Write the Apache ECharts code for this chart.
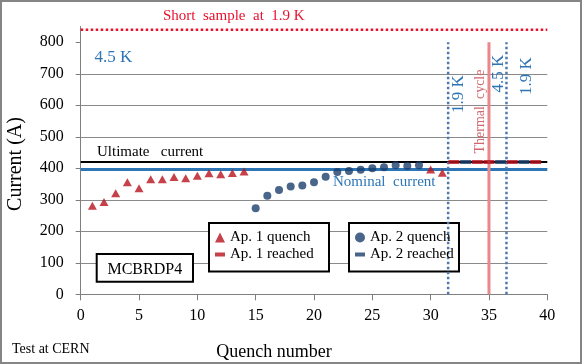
<!DOCTYPE html>
<html>
<head>
<meta charset="utf-8">
<script src="https://cdn.jsdelivr.net/npm/echarts@6/dist/echarts.min.js"></script>
<style>
html,body{margin:0;padding:0;background:#fff;}
#wrap{position:relative;width:582px;height:364px;}
#chart{width:582px;height:364px;}
#frame{position:absolute;left:0;top:0;width:582px;height:364px;box-sizing:border-box;border:2px solid #858585;pointer-events:none;}
</style>
</head>
<body>
<div id="wrap"><div id="chart"></div><div id="frame"></div></div>
<script>
// ---- data ----
const ap1QuenchNo = [1,2,3,4,5,6,7,8,9,10,11,12,13,14,30,31];
const ap1Quench   = [281,293,321,356,337,365,365,372,368,376,384,381,385,390,396,386];
const ap2QuenchNo = [15,16,17,18,19,20,21,22,23,24,25,26,27,28,29];
const ap2Quench   = [273,313,331,342,345,356,373,388,391,395,400,403,410,407,410];
const ap1ReachedNo = [32,34,35,37,39];
const ap1Reached   = [420,420,420,420,420];
const ap2ReachedNo = [33,36,38];
const ap2Reached   = [420,420,420];
const ultimateCurrent = 420;
const nominalCurrent = 396;
const shortSample19K = 840;
const tempChangeNo = [31.5, 36.5];
const thermalCycleNo = 35;
const xTicks = [0,5,10,15,20,25,30,35,40];
const yTicks = [0,100,200,300,400,500,600,700,800];
const xRange = [0, 40];
const yRange = [0, 850];

const FONT = 'Liberation Serif';
const RED = '#B8121C';
const NAVY = '#1B3F6D';
const BLUE = '#2E75B6';

const chart = echarts.init(document.getElementById('chart'), null, {renderer:'canvas'});

function pairs(xs, ys){ return xs.map((x,i)=>[x, ys[i]]); }
function hLine(name, y, color, width, type){
  return {name, type:'line', data:[[xRange[0], y],[xRange[1], y]], symbol:'none', silent:true,
    lineStyle:{color, width, type}, z:2};
}
function vLine(name, x, color, width, type){
  return {name, type:'line', data:[[x, yTicks[0]],[x, yTicks[yTicks.length-1]]], symbol:'none', silent:true,
    lineStyle:{color, width, type}, z:3};
}

const splitColors = yTicks.map(()=> '#8a8a8a').concat(['rgba(0,0,0,0)']);

const option = {
  animation:false,
  backgroundColor:'#fff',
  grid:{left:80.7, right:34.7, top:26.5, bottom:69.7},
  xAxis:{type:'value', min:xRange[0], max:xRange[1], interval:5,
    axisLine:{show:true, onZero:false, lineStyle:{color:'#7f7f7f', width:1}},
    axisTick:{show:true, length:6, inside:false, lineStyle:{color:'#7f7f7f'}},
    splitLine:{show:false},
    axisLabel:{fontFamily:FONT, fontSize:16, color:'#000', margin:13,
      formatter:v=> xTicks.includes(v)? String(v):''}
  },
  yAxis:{type:'value', min:yRange[0], max:yRange[1], interval:100,
    axisLine:{show:true, lineStyle:{color:'#7f7f7f', width:1}},
    axisTick:{show:true, length:5, lineStyle:{color:'#7f7f7f'}, customValues:yTicks},
    splitLine:{show:true, showMaxLine:false, lineStyle:{color:splitColors, width:1}},
    axisLabel:{fontFamily:FONT, fontSize:16, color:'#000', margin:17,
      formatter:v=> yTicks.includes(v)? String(v):''}
  },
  legend:[
    {left:215, top:230, orient:'vertical', itemWidth:10, itemHeight:10, itemGap:2, padding:0,
     symbolKeepAspect:true,
     textStyle:{fontFamily:FONT, fontSize:15, color:'#000'},
     data:[{name:'Ap. 1 quench', icon:'triangle'},{name:'Ap. 1 reached', icon:'path://M0,0H10V4H0Z'}]},
    {left:355, top:230, orient:'vertical', itemWidth:10, itemHeight:10, itemGap:2, padding:0,
     symbolKeepAspect:true,
     textStyle:{fontFamily:FONT, fontSize:15, color:'#000'},
     data:[{name:'Ap. 2 quench', icon:'circle'},{name:'Ap. 2 reached', icon:'path://M0,0H10V4H0Z'}]}
  ],
  series:[
    hLine('Short sample', shortSample19K, '#E8112D', 2.5, 'dotted'),
    hLine('Ultimate current', ultimateCurrent, '#000', 2, 'solid'),
    hLine('Nominal current', nominalCurrent, BLUE, 3, 'solid'),
    vLine('T1', tempChangeNo[0], '#4F79AD', 2.5, 'dotted'),
    vLine('T2', tempChangeNo[1], '#4F79AD', 2.5, 'dotted'),
    vLine('Thermal', thermalCycleNo, '#E9888B', 3, 'solid'),
    {name:'Ap. 1 quench', type:'scatter', data:pairs(ap1QuenchNo, ap1Quench), symbol:'triangle', symbolSize:[9,8],
      itemStyle:{color:RED}, z:5},
    {name:'Ap. 2 quench', type:'scatter', data:pairs(ap2QuenchNo, ap2Quench), symbol:'circle', symbolSize:8,
      itemStyle:{color:NAVY}, z:5},
    {name:'Ap. 1 reached', type:'scatter', data:pairs(ap1ReachedNo, ap1Reached), symbol:'rect', symbolSize:[11,4],
      itemStyle:{color:RED}, z:4},
    {name:'Ap. 2 reached', type:'scatter', data:pairs(ap2ReachedNo, ap2Reached), symbol:'rect', symbolSize:[11,4],
      itemStyle:{color:NAVY}, z:4}
  ],
  graphic:[
    {type:'rect', z:1, shape:{x:209, y:223, width:120, height:48.5}, style:{fill:'#fff', stroke:'#000', lineWidth:2}},
    {type:'rect', z:1, shape:{x:349, y:223, width:110, height:48.5}, style:{fill:'#fff', stroke:'#000', lineWidth:2}},
    {type:'rect', z:1, shape:{x:96.7, y:254, width:96.3, height:27.7}, style:{fill:'#fff', stroke:'#000', lineWidth:2}},
    {type:'text', z:6, x:144.8, y:269.5, style:{text:'MCBRDP4', fontFamily:FONT, fontSize:16, fill:'#000', textAlign:'center', textVerticalAlign:'middle'}},
    {type:'text', z:6, x:163, y:15.7, style:{text:'Short  sample  at  1.9 K', fontFamily:FONT, fontSize:15, fill:'#E8112D', textAlign:'left', textVerticalAlign:'middle'}},
    {type:'text', z:6, x:94.5, y:57.5, style:{text:'4.5 K', fontFamily:FONT, fontSize:17, fill:BLUE, textAlign:'left', textVerticalAlign:'middle'}},
    {type:'text', z:6, x:97, y:152, style:{text:'Ultimate   current', fontFamily:FONT, fontSize:15, fill:'#000', textAlign:'left', textVerticalAlign:'middle'}},
    {type:'text', z:6, x:333, y:182, style:{text:'Nominal  current', fontFamily:FONT, fontSize:15, fill:BLUE, textAlign:'left', textVerticalAlign:'middle'}},
    {type:'text', z:6, x:458.3, y:94, rotation:Math.PI/2, style:{text:'1.9 K', fontFamily:FONT, fontSize:17, fill:BLUE, textAlign:'center', textVerticalAlign:'middle'}},
    {type:'text', z:6, x:480, y:111.5, rotation:Math.PI/2, style:{text:'Thermal  cycle', fontFamily:FONT, fontSize:14, fill:'#D0686E', textAlign:'center', textVerticalAlign:'middle'}},
    {type:'text', z:6, x:498.3, y:73.5, rotation:Math.PI/2, style:{text:'4.5 K', fontFamily:FONT, fontSize:17, fill:BLUE, textAlign:'center', textVerticalAlign:'middle'}},
    {type:'text', z:6, x:526.7, y:76, rotation:Math.PI/2, style:{text:'1.9 K', fontFamily:FONT, fontSize:17, fill:BLUE, textAlign:'center', textVerticalAlign:'middle'}},
    {type:'text', z:6, x:16, y:164, rotation:Math.PI/2, style:{text:'Current (A)', fontFamily:FONT, fontSize:20, fill:'#000', textAlign:'center', textVerticalAlign:'middle'}},
    {type:'text', z:6, x:274, y:352, style:{text:'Quench number', fontFamily:FONT, fontSize:18, fill:'#000', textAlign:'center', textVerticalAlign:'middle'}},
    {type:'text', z:6, x:12, y:349.5, style:{text:'Test at CERN', fontFamily:FONT, fontSize:14, fill:'#000', textAlign:'left', textVerticalAlign:'middle'}}
  ]
};
chart.setOption(option);
</script>
</body>
</html>
